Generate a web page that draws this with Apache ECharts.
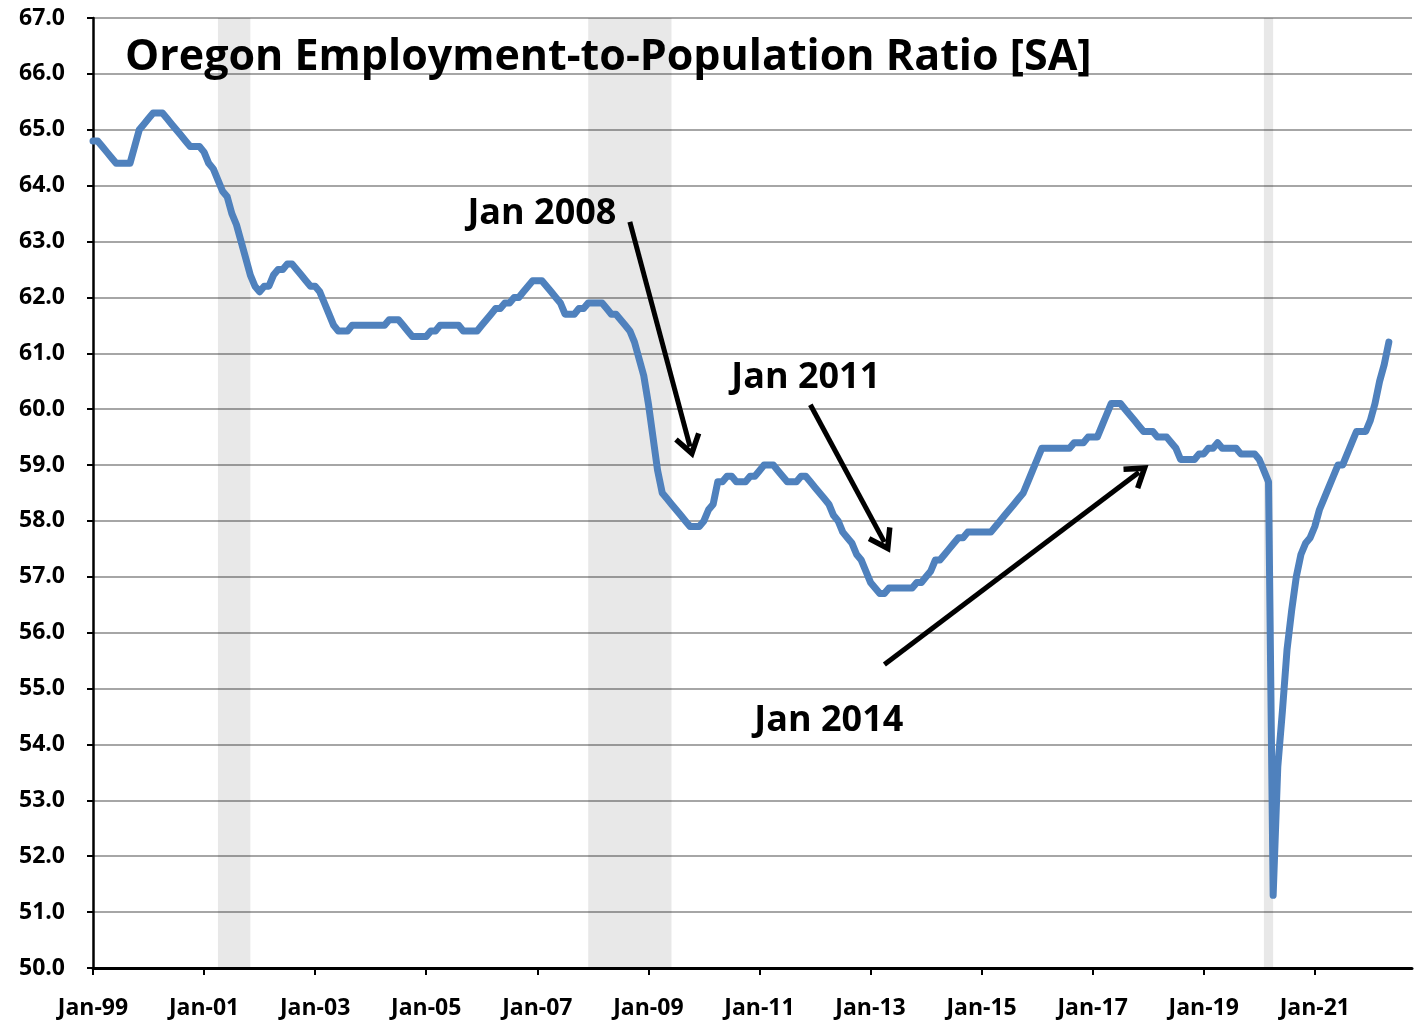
<!DOCTYPE html>
<html>
<head>
<meta charset="utf-8">
<script src="https://cdn.jsdelivr.net/npm/echarts@6/dist/echarts.min.js"></script>
<style>
  html, body { margin: 0; padding: 0; background: #fff; }
  #chart { width: 1414px; height: 1020px; }
</style>
</head>
<body>
<div id="chart"></div>
<script>
// Oregon employment-to-population ratio, monthly, Jan 1999 - May 2022
const epop = [
  // 1999
  64.8, 64.8, 64.7, 64.6, 64.5, 64.4, 64.4, 64.4, 64.4, 64.7, 65.0, 65.1,
  // 2000
  65.2, 65.3, 65.3, 65.3, 65.2, 65.1, 65.0, 64.9, 64.8, 64.7, 64.7, 64.7,
  // 2001
  64.6, 64.4, 64.3, 64.1, 63.9, 63.8, 63.5, 63.3, 63.0, 62.7, 62.4, 62.2,
  // 2002
  62.1, 62.2, 62.2, 62.4, 62.5, 62.5, 62.6, 62.6, 62.5, 62.4, 62.3, 62.2,
  // 2003
  62.2, 62.1, 61.9, 61.7, 61.5, 61.4, 61.4, 61.4, 61.5, 61.5, 61.5, 61.5,
  // 2004
  61.5, 61.5, 61.5, 61.5, 61.6, 61.6, 61.6, 61.5, 61.4, 61.3, 61.3, 61.3,
  // 2005
  61.3, 61.4, 61.4, 61.5, 61.5, 61.5, 61.5, 61.5, 61.4, 61.4, 61.4, 61.4,
  // 2006
  61.5, 61.6, 61.7, 61.8, 61.8, 61.9, 61.9, 62.0, 62.0, 62.1, 62.2, 62.3,
  // 2007
  62.3, 62.3, 62.2, 62.1, 62.0, 61.9, 61.7, 61.7, 61.7, 61.8, 61.8, 61.9,
  // 2008
  61.9, 61.9, 61.9, 61.8, 61.7, 61.7, 61.6, 61.5, 61.4, 61.2, 60.9, 60.6,
  // 2009
  60.1, 59.5, 58.9, 58.5, 58.4, 58.3, 58.2, 58.1, 58.0, 57.9, 57.9, 57.9,
  // 2010
  58.0, 58.2, 58.3, 58.7, 58.7, 58.8, 58.8, 58.7, 58.7, 58.7, 58.8, 58.8,
  // 2011
  58.9, 59.0, 59.0, 59.0, 58.9, 58.8, 58.7, 58.7, 58.7, 58.8, 58.8, 58.7,
  // 2012
  58.6, 58.5, 58.4, 58.3, 58.1, 58.0, 57.8, 57.7, 57.6, 57.4, 57.3, 57.1,
  // 2013
  56.9, 56.8, 56.7, 56.7, 56.8, 56.8, 56.8, 56.8, 56.8, 56.8, 56.9, 56.9,
  // 2014
  57.0, 57.1, 57.3, 57.3, 57.4, 57.5, 57.6, 57.7, 57.7, 57.8, 57.8, 57.8,
  // 2015
  57.8, 57.8, 57.8, 57.9, 58.0, 58.1, 58.2, 58.3, 58.4, 58.5, 58.7, 58.9,
  // 2016
  59.1, 59.3, 59.3, 59.3, 59.3, 59.3, 59.3, 59.3, 59.4, 59.4, 59.4, 59.5,
  // 2017
  59.5, 59.5, 59.7, 59.9, 60.1, 60.1, 60.1, 60.0, 59.9, 59.8, 59.7, 59.6,
  // 2018
  59.6, 59.6, 59.5, 59.5, 59.5, 59.4, 59.3, 59.1, 59.1, 59.1, 59.1, 59.2,
  // 2019
  59.2, 59.3, 59.3, 59.4, 59.3, 59.3, 59.3, 59.3, 59.2, 59.2, 59.2, 59.2,
  // 2020
  59.1, 58.9, 58.7, 51.3, 53.6, 54.6, 55.7, 56.4, 57.0, 57.4, 57.6, 57.7,
  // 2021
  57.9, 58.2, 58.4, 58.6, 58.8, 59.0, 59.0, 59.2, 59.4, 59.6, 59.6, 59.6,
  // 2022
  59.8, 60.1, 60.5, 60.8, 61.2
];

// recessions (first and last month, shaded)
const recessions = [
  ['Apr-01', 'Nov-01'],
  ['Dec-07', 'Jun-09'],
  ['Feb-20', 'Apr-20']
];

// annotation text: [label, month index, value]
const notes = [
  ['Jan 2008', 97, 63.5],
  ['Jan 2011', 154, 60.56],
  ['Jan 2014', 159, 54.42]
];

// arrows: [from index, from value, to index, to value]
const arrows = [
  [116, 63.35, 129, 59.33],
  [155, 60.08, 171, 57.62],
  [171, 55.43, 226, 58.87]
];

const monNames = ['Jan','Feb','Mar','Apr','May','Jun','Jul','Aug','Sep','Oct','Nov','Dec'];
const months = [];
for (let y = 1999; y <= 2022; y++) {
  for (let m = 0; m < 12; m++) {
    if (months.length >= 286) break;
    months.push(monNames[m] + '-' + String(y % 100).padStart(2, '0'));
  }
}

const FONT = "'Open Sans', 'DejaVu Sans', sans-serif";
const everyTwoYears = (idx) => idx % 24 === 0;
const chevron = 'path://M10,0 L20,15 L16.8,17.2 L10,7.2 L3.2,17.2 L0,15 Z';

const chart = echarts.init(document.getElementById('chart'));

chart.setOption({
  animation: false,
  backgroundColor: '#fff',
  title: {
    text: 'Oregon Employment-to-Population Ratio [SA]',
    left: 120,
    top: 31,
    textStyle: { fontFamily: FONT, fontSize: 43, fontWeight: 'bold', color: '#000' }
  },
  grid: { left: 93, right: 2, top: 18, bottom: 51 },
  xAxis: {
    type: 'category',
    data: months,
    boundaryGap: false,
    axisLine: { lineStyle: { color: '#000', width: 3 } },
    axisTick: { interval: everyTwoYears, length: 7, lineStyle: { color: '#000', width: 2 } },
    axisLabel: {
      interval: everyTwoYears,
      margin: 29,
      fontFamily: FONT,
      fontSize: 23,
      fontWeight: 'bold',
      color: '#000'
    },
    splitLine: { show: false }
  },
  yAxis: {
    type: 'value',
    min: 50,
    max: 67,
    interval: 1,
    axisLine: { show: true, lineStyle: { color: '#000', width: 2.5 } },
    axisTick: { show: true, length: 6, lineStyle: { color: '#000', width: 2 } },
    axisLabel: {
      margin: 28,
      formatter: (v) => v.toFixed(1),
      fontFamily: FONT,
      fontSize: 23,
      fontWeight: 'bold',
      color: '#000'
    },
    splitLine: { lineStyle: { color: '#a6a6a6', width: 2 } }
  },
  series: [{
    type: 'line',
    data: epop,
    showSymbol: false,
    symbol: 'none',
    lineStyle: { color: '#4f81bd', width: 7, join: 'round', cap: 'round' },
    itemStyle: { color: '#4f81bd' },
    markArea: {
      silent: true,
      itemStyle: { color: 'rgba(0,0,0,0.09)' },
      data: recessions.map(r => [{ xAxis: r[0] }, { xAxis: r[1] }])
    },
    markLine: {
      silent: true,
      symbol: ['none', chevron],
      symbolSize: [28, 24],
      lineStyle: { color: '#000', width: 5, type: 'solid' },
      label: { show: false },
      data: arrows.map(a => [{ coord: [a[0], a[1]] }, { coord: [a[2], a[3]] }])
    },
    markPoint: {
      silent: true,
      symbol: 'rect',
      symbolSize: 1,
      itemStyle: { color: 'rgba(0,0,0,0)' },
      label: {
        show: true,
        position: 'inside',
        formatter: '{b}',
        fontFamily: FONT,
        fontSize: 36,
        fontWeight: 'bold',
        color: '#000'
      },
      data: notes.map(n => ({ name: n[0], coord: [n[1], n[2]] }))
    }
  }]
});
</script>
</body>
</html>
